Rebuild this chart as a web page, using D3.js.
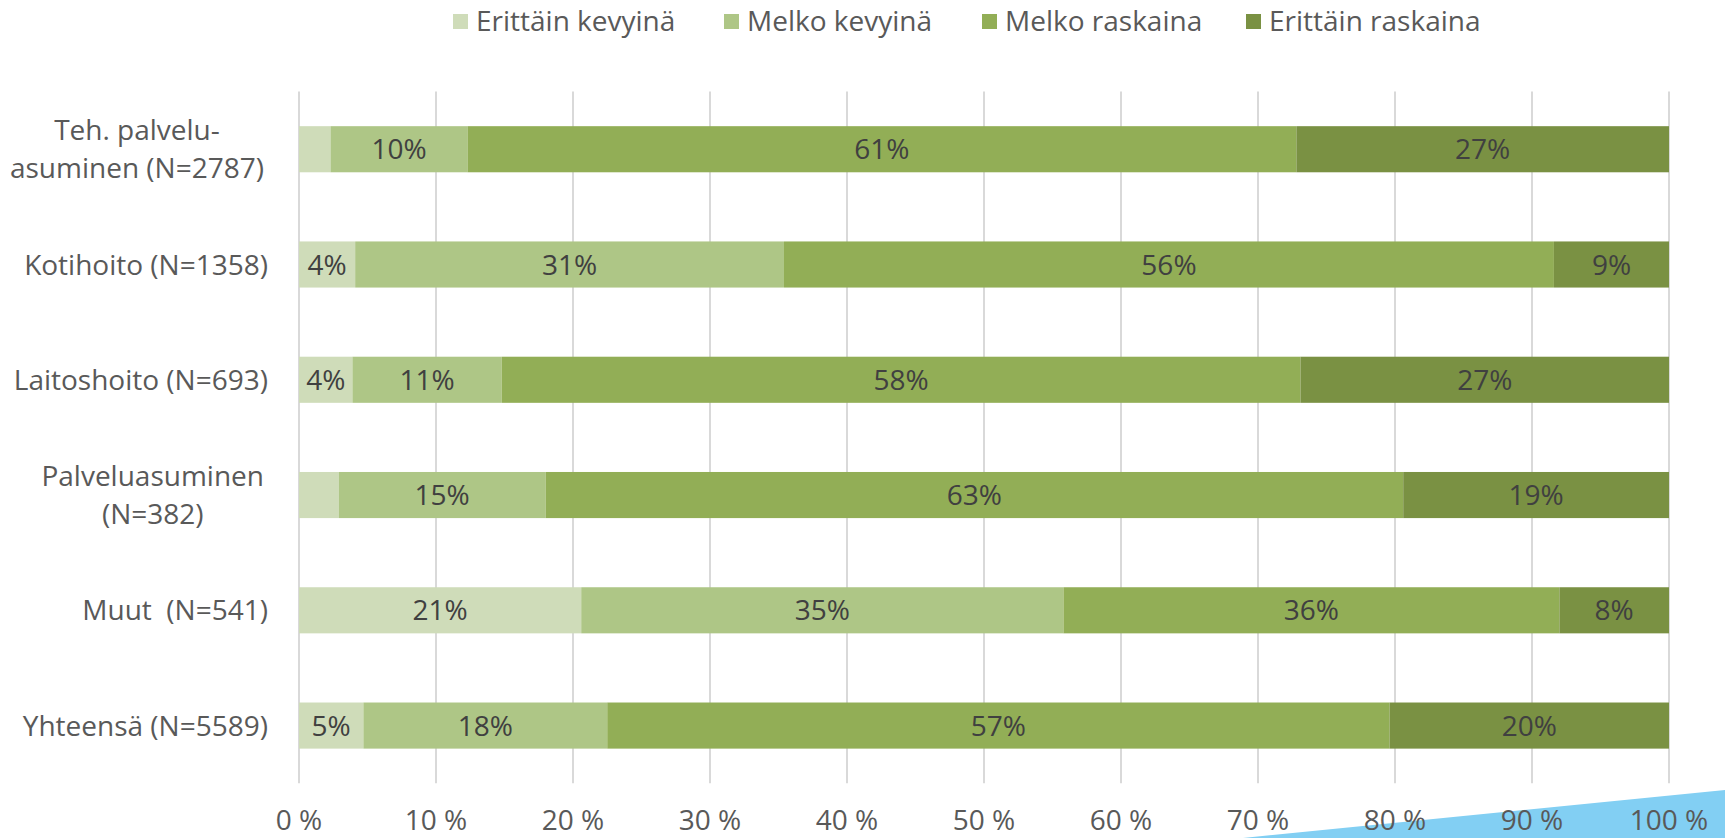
<!DOCTYPE html>
<html>
<head>
<meta charset="utf-8">
<script src="https://cdn.jsdelivr.net/npm/d3@7"></script>
<style>
  body { margin: 0; background: #fff; }
  svg { display: block; font-family: "Open Sans", sans-serif; }
  .grid line { stroke: #d9d9d9; stroke-width: 2; }
  .tick-label { fill: #595959; font-size: 28px; }
  .cat-label { fill: #595959; font-size: 28px; white-space: pre; }
  .val-label { fill: #404040; font-size: 28px; }
  .legend text { fill: #595959; font-size: 28px; }
</style>
</head>
<body>
<script>
// categories (top to bottom); "\n" splits a label over two lines
const categories = [
  "Teh. palvelu-\nasuminen (N=2787)",
  "Kotihoito (N=1358)",
  "Laitoshoito (N=693)",
  "Palveluasuminen\n(N=382)",
  "Muut  (N=541)",
  "Yhteensä (N=5589)"
];
const seriesNames = ["Erittäin kevyinä", "Melko kevyinä", "Melko raskaina", "Erittäin raskaina"];
const seriesColors = ["#cfdcb9", "#aec686", "#92ae56", "#7a9143"];

// percentage shares per category, one array per series
const erittainKevyina = [2.3, 4.1, 3.9, 2.9, 20.6, 4.7];
const melkoKevyina    = [10.0, 31.3, 10.9, 15.1, 35.2, 17.8];
const melkoRaskaina   = [60.5, 56.2, 58.3, 62.6, 36.2, 57.1];
const erittainRaskaina= [27.2, 8.4, 26.9, 19.4, 8.0, 20.4];

// shown labels (null = no label in the segment)
const labelsEK = [null, "4%", "4%", null, "21%", "5%"];
const labelsMK = ["10%", "31%", "11%", "15%", "35%", "18%"];
const labelsMR = ["61%", "56%", "58%", "63%", "36%", "57%"];
const labelsER = ["27%", "9%", "27%", "19%", "8%", "20%"];

const xTicks = [0, 10, 20, 30, 40, 50, 60, 70, 80, 90, 100];

const width = 1725, height = 838;
const series = [erittainKevyina, melkoKevyina, melkoRaskaina, erittainRaskaina];
const labels = [labelsEK, labelsMK, labelsMR, labelsER];

const rows = categories.map((c, i) => {
  const r = { cat: c };
  seriesNames.forEach((s, j) => { r[s] = series[j][i]; });
  return r;
});
const stacked = d3.stack().keys(seriesNames)(rows);

const x = d3.scaleLinear().domain([0, 100]).range([299, 1669]);
const y = d3.scaleBand().domain(categories).range([91.6, 783.2]).paddingInner(0.6).paddingOuter(0.3);

const svg = d3.select("body").append("svg")
  .attr("width", width).attr("height", height);

// corner decoration (behind everything)
svg.append("path")
  .attr("d", `M${width - 482},${height} L${width},${height - 48} L${width},${height} Z`)
  .attr("fill", "#82cff3");

// gridlines
svg.append("g").attr("class", "grid")
  .selectAll("line").data(xTicks).join("line")
  .attr("x1", d => x(d)).attr("x2", d => x(d))
  .attr("y1", y.range()[0]).attr("y2", y.range()[1]);

// x tick labels
svg.append("g").selectAll("text").data(xTicks).join("text")
  .attr("class", "tick-label")
  .attr("x", d => x(d)).attr("y", 830)
  .attr("text-anchor", "middle")
  .text(d => d + " %");

// bars
const layer = svg.append("g").selectAll("g").data(stacked).join("g")
  .attr("fill", (d, i) => seriesColors[i]);
layer.selectAll("rect").data(d => d).join("rect")
  .attr("x", d => x(d[0]))
  .attr("width", d => x(d[1]) - x(d[0]))
  .attr("y", d => y(d.data.cat))
  .attr("height", y.bandwidth());

// value labels
stacked.forEach((s, j) => {
  svg.append("g").selectAll("text").data(s).join("text")
    .attr("class", "val-label")
    .attr("x", d => (x(d[0]) + x(d[1])) / 2)
    .attr("y", d => y(d.data.cat) + y.bandwidth() / 2 + 10)
    .attr("text-anchor", "middle")
    .text((d, i) => labels[j][i] || "");
});

// category labels
const catG = svg.append("g");
categories.forEach(c => {
  const lines = c.split("\n");
  const cy = y(c) + y.bandwidth() / 2;
  if (lines.length === 1) {
    catG.append("text").attr("class", "cat-label")
      .attr("x", 268).attr("y", cy + 10)
      .attr("text-anchor", "end").text(c);
  } else {
    const t = catG.append("text").attr("class", "cat-label").attr("text-anchor", "middle");
    lines.forEach((l, k) => {
      t.append("tspan").attr("x", 0).attr("y", cy + 10 + (k - (lines.length - 1) / 2) * 37.5).text(l);
    });
    // right-align the block, lines centred within it
    const w = t.node().getBBox().width;
    t.selectAll("tspan").attr("x", 264 - w / 2);
  }
});

// legend
const legendX = [453, 724, 982, 1246];
const lg = svg.append("g").attr("class", "legend");
seriesNames.forEach((s, i) => {
  lg.append("rect").attr("x", legendX[i]).attr("y", 14).attr("width", 15).attr("height", 15)
    .attr("fill", seriesColors[i]);
  lg.append("text").attr("x", legendX[i] + 23).attr("y", 31).text(s);
});
</script>
</body>
</html>
